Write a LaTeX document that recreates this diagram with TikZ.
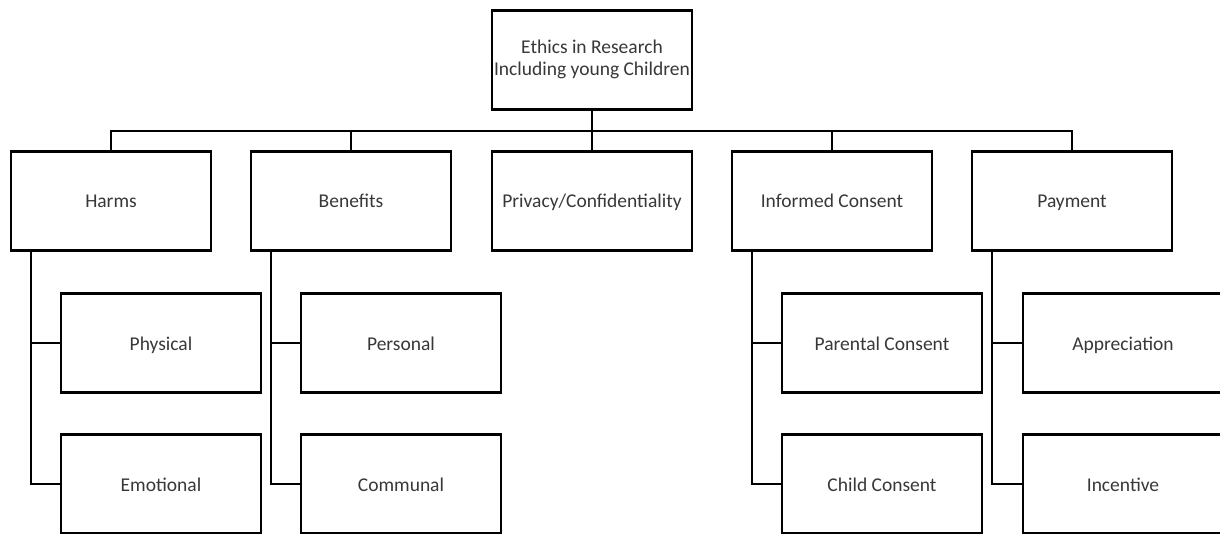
\documentclass[tikz,border=0pt]{standalone}
\usepackage{fontspec}
\setmainfont{Carlito}
\begin{document}
\begin{tikzpicture}[x=1pt,y=-1pt,
  boxbase/.style={draw=black, line width=2.2pt, fill=white, minimum width=200pt, minimum height=99pt,
    inner sep=0pt, align=center, font=\fontsize{19.5}{22}\selectfont, text=black!78},
  box/.style={boxbase, text height=14pt, text depth=0pt},
  link/.style={draw=black, line width=2.2pt}]
\useasboundingbox (0,0) rectangle (1220,534);
\clip (0,0) rectangle (1220,534);
\node[boxbase, text height=32pt, text depth=0pt] (top) at (592,60) {Ethics in Research\\Including young Children};
\node[box] (harms) at (111,201) {Harms};
\node[box] (benefits) at (351,201) {Benefits};
\node[box] (privacy) at (592,201) {Privacy/Confidentiality};
\node[box] (informed) at (832,201) {Informed Consent};
\node[box] (payment) at (1072,201) {Payment};
\node[box] (physical) at (161,343) {Physical};
\node[box] (emotional) at (161,484) {Emotional};
\node[box] (personal) at (401,343) {Personal};
\node[box] (communal) at (401,484) {Communal};
\node[box] (parental) at (882,343) {Parental Consent};
\node[box] (child) at (882,484) {Child Consent};
\node[box] (appreciation) at (1123,343) {Appreciation};
\node[box] (incentive) at (1123,484) {Incentive};
\coordinate (bus) at (592,131);
\draw[link] (top.south) -- (privacy.north);
\draw[link] (harms.north) -- (harms.north |- bus) -- (payment.north |- bus) -- (payment.north);
\draw[link] (benefits.north) -- (benefits.north |- bus);
\draw[link] (informed.north) -- (informed.north |- bus);
\foreach \p/\a/\b in {harms/physical/emotional, benefits/personal/communal, informed/parental/child, payment/appreciation/incentive}{
  \draw[link] ([xshift=21pt]\p.south west) |- (\b.west);
  \draw[link] ([xshift=21pt]\p.south west |- \a.west) -- (\a.west);
}
\end{tikzpicture}
\end{document}
